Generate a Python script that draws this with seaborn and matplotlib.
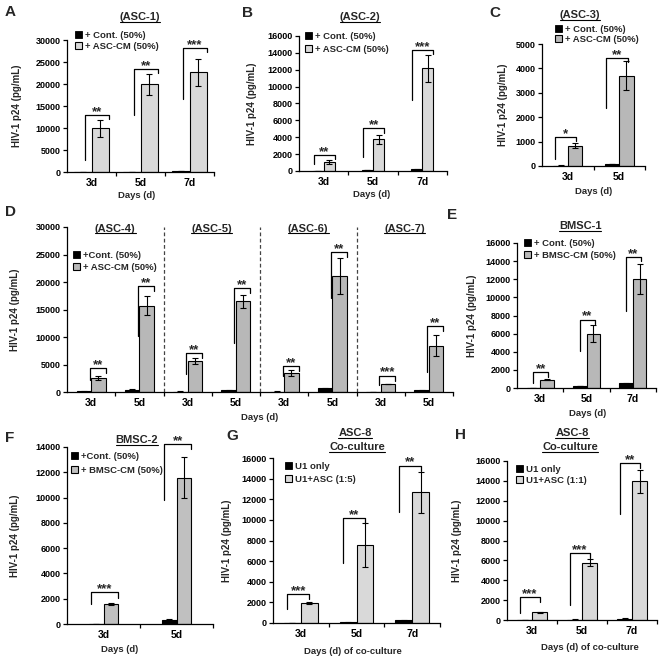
import numpy as np
import pandas as pd
import matplotlib
matplotlib.use("Agg")
import matplotlib.pyplot as plt
import seaborn as sns
from matplotlib.patches import Patch
from matplotlib.lines import Line2D

sns.set_theme(style="ticks")
plt.rcParams["font.family"] = ["Liberation Sans", "DejaVu Sans"]
plt.rcParams["font.weight"] = "bold"
plt.rcParams["axes.labelweight"] = "bold"
plt.rcParams["axes.linewidth"] = 0.9

# ---------------- data ----------------
# Panel A (ASC-1)
a_days = ["3d", "5d", "7d"]
a_ctrl = [50, 80, 200]
a_ctrl_err = [10, 20, 40]
a_cm = [9900, 19900, 22700]
a_cm_err = [1850, 2450, 3050]
a_sig = ["**", "**", "***"]
a_bracket = [13000, 23400, 28100]
a_leg = [2800, 13000, 16500]

# Panel B (ASC-2)
b_days = ["3d", "5d", "7d"]
b_ctrl = [30, 80, 200]
b_ctrl_err = [5, 15, 40]
b_cm = [1030, 3760, 12200]
b_cm_err = [240, 560, 1600]
b_sig = ["**", "**", "***"]
b_bracket = [1900, 5040, 14300]
b_leg = [800, 1600, 8450]

# Panel C (ASC-3)
c_days = ["3d", "5d"]
c_ctrl = [20, 80]
c_ctrl_err = [5, 15]
c_cm = [830, 3700]
c_cm_err = [110, 600]
c_sig = ["*", "**"]
c_bracket = [1170, 4410]
c_leg = [300, 2390]

# Panel D (ASC-4 .. ASC-7)
d_groups = ["(ASC-4)", "(ASC-5)", "(ASC-6)", "(ASC-7)"]
d_cats = ["ASC-4 3d", "ASC-4 5d", "ASC-5 3d", "ASC-5 5d",
          "ASC-6 3d", "ASC-6 5d", "ASC-7 3d", "ASC-7 5d"]
d_ticklabels = ["3d", "5d", "3d", "5d", "3d", "5d", "3d", "5d"]
d_ctrl = [100, 400, 80, 300, 80, 650, 60, 300]
d_ctrl_err = [20, 60, 15, 50, 15, 120, 10, 50]
d_cm = [2550, 15700, 5700, 16500, 3450, 21150, 1450, 8400]
d_cm_err = [350, 1700, 550, 1200, 500, 3300, 80, 1900]
d_sig = ["**", "**", "**", "**", "**", "**", "***", "**"]
d_bracket = [4360, 19200, 7100, 18900, 4670, 25400, 2970, 11940]
d_leg = [2240, 10240, 3270, 8900, 2850, 17100, 1200, 3580]

# Panel E (BMSC-1)
e_days = ["3d", "5d", "7d"]
e_ctrl = [30, 220, 500]
e_ctrl_err = [10, 40, 60]
e_cm = [920, 6000, 12060]
e_cm_err = [80, 900, 1650]
e_sig = ["**", "**", "**"]
e_bracket = [1730, 7540, 14450]
e_leg = [550, 4040, 8450]

# Panel F (BMSC-2)
f_days = ["3d", "5d"]
f_ctrl = [20, 340]
f_ctrl_err = [5, 50]
f_cm = [1580, 11580]
f_cm_err = [80, 1600]
f_sig = ["***", "**"]
f_bracket = [2500, 14240]
f_leg = [1580, 9800]

# Panel G (ASC-8 co-culture 1:5)
g_days = ["3d", "5d", "7d"]
g_ctrl = [20, 50, 260]
g_ctrl_err = [5, 10, 50]
g_cm = [1950, 7560, 12690]
g_cm_err = [60, 2120, 2000]
g_sig = ["***", "**", "**"]
g_bracket = [2790, 10160, 15260]
g_leg = [1400, 5780, 10810]

# Panel H (ASC-8 co-culture 1:1)
h_days = ["3d", "5d", "7d"]
h_ctrl = [20, 50, 150]
h_ctrl_err = [5, 10, 30]
h_cm = [770, 5750, 13950]
h_cm_err = [50, 350, 1120]
h_sig = ["***", "***", "**"]
h_bracket = [2270, 6760, 15790]
h_leg = [670, 1500, 10700]

# ---------------- figure ----------------
W = H = 660
fig = plt.figure(figsize=(6.6, 6.6), dpi=100)
fig.patch.set_facecolor("white")
underline_texts = []


def fxy(x, y):
    return x / W, 1 - y / H


def px_axes(left, top, right, bottom):
    return fig.add_axes([left / W, 1 - bottom / H, (right - left) / W, (bottom - top) / H])


def draw_panel(rect, cats, ticklabels, ctrl, ctrl_err, cm, cm_err, labels, color,
               width, ymax, ystep, bracket, leg_low, sig, bl, br,
               legend_pos, lspacing, xlabel, xlabel_px, ylabel_x):
    left, top, right, bottom = rect
    ax = px_axes(*rect)
    n = len(cats)
    df = pd.DataFrame({
        "day": list(cats) * 2,
        "value": list(ctrl) + list(cm),
        "group": [labels[0]] * n + [labels[1]] * n,
    })
    sns.barplot(data=df, x="day", y="value", hue="group", order=cats,
                hue_order=labels, palette=["black", color], width=width,
                edgecolor="black", linewidth=0.8, errorbar=None,
                legend=False, saturation=1, ax=ax)
    bars = sorted(ax.patches, key=lambda p: p.get_x())
    ctrl_p = [p for p in bars if p.get_facecolor()[0] < 0.3]
    cm_p = [p for p in bars if p.get_facecolor()[0] >= 0.3]
    bw = cm_p[0].get_width()
    cx = [p.get_x() + p.get_width() / 2 for p in ctrl_p]
    mx = [p.get_x() + p.get_width() / 2 for p in cm_p]
    ax.errorbar(cx, [p.get_height() for p in ctrl_p], yerr=ctrl_err, fmt="none",
                ecolor="black", elinewidth=0.8, capsize=2.2, capthick=0.8)
    ax.errorbar(mx, [p.get_height() for p in cm_p], yerr=cm_err, fmt="none",
                ecolor="black", elinewidth=0.8, capsize=2.2, capthick=0.8)
    drop = 0.03 * ymax
    for i in range(n):
        g = (cx[i] + mx[i]) / 2
        xl, xr = g + bl * bw, g + br * bw
        ax.plot([xl, xl, xr, xr], [leg_low[i], bracket[i], bracket[i], bracket[i] - drop],
                color="black", lw=0.9, clip_on=False)
        ax.text((xl + xr) / 2, bracket[i], sig[i], ha="center",
                va="baseline", fontsize=9.5, fontweight="bold", clip_on=False)
    ax.set_ylim(0, ymax)
    yt = np.arange(0, ymax + 1, ystep)
    ax.set_yticks(yt)
    ax.set_yticklabels([str(int(v)) for v in yt], fontsize=6.5, fontweight="bold")
    ax.set_xlim(-0.5, n - 0.5)
    ax.set_xticks(range(n))
    ax.set_xticklabels(ticklabels, fontsize=7.5, fontweight="bold")
    ax.set_xticks(np.arange(0.5, n - 0.5 + 0.01, 1), minor=True)
    ax.tick_params(axis="x", which="major", length=0, pad=4, colors="black")
    ax.tick_params(axis="x", which="minor", length=3, width=0.9, direction="out", color="black")
    ax.tick_params(axis="y", length=3, width=0.9, direction="out", pad=1.5, colors="black")
    sns.despine(ax=ax)
    for s in ("left", "bottom"):
        ax.spines[s].set_color("black")
    ax.set_facecolor("none")
    # axis labels
    ax.set_xlabel(xlabel, fontsize=6.8, fontweight="bold")
    ax.set_ylabel("HIV-1 p24 (pg/mL)", fontsize=7, fontweight="bold")
    xa = (xlabel_px[0] - left) / (right - left)
    ya = (bottom - xlabel_px[1]) / (bottom - top)
    ax.xaxis.set_label_coords(xa, ya)
    ax.xaxis.label.set_va("center")
    ax.yaxis.set_label_coords((ylabel_x - left) / (right - left), 0.5)
    ax.yaxis.label.set_va("center")
    # legend
    handles = [Patch(facecolor="black", edgecolor="black", linewidth=0.6),
               Patch(facecolor=color, edgecolor="black", linewidth=0.8)]
    ax.legend(handles, labels, loc="upper left", bbox_to_anchor=fxy(*legend_pos),
              bbox_transform=fig.transFigure, frameon=False,
              prop={"weight": "bold", "size": 6.8}, borderpad=0, borderaxespad=0,
              handlelength=0.7, handleheight=0.7, handletextpad=0.4,
              labelspacing=lspacing)
    return ax


def title(x, y, s, size=8):
    t = fig.text(*fxy(x, y), s, ha="center", va="center", fontsize=size,
                 fontweight="bold")
    underline_texts.append(t)
    return t


def letter(x, y, s):
    fig.text(*fxy(x, y), s, ha="center", va="center", fontsize=11, fontweight="bold")


LIGHT = "#d9d9d9"
MID = "#b8b8b8"

# A
draw_panel((67, 40, 214, 172), a_days, a_days, a_ctrl, a_ctrl_err, a_cm, a_cm_err,
           ["+ Cont. (50%)", "+ ASC-CM (50%)"], LIGHT, 0.7, 30000, 5000,
           a_bracket, a_leg, a_sig, -0.35, 1.0, (75, 31), 0.2, "Days (d)", (137, 195), 17)
title(140, 17, "(ASC-1)")
letter(10, 12, "A")

# B
draw_panel((299, 36, 447, 171), b_days, b_days, b_ctrl, b_ctrl_err, b_cm, b_cm_err,
           ["+ Cont. (50%)", "+ ASC-CM (50%)"], LIGHT, 0.45, 16000, 2000,
           b_bracket, b_leg, b_sig, -0.9, 1.0, (305, 32), 0.4, "Days (d)", (372, 195), 252)
title(360, 17, "(ASC-2)")
letter(248, 13, "B")

# C
draw_panel((542, 44, 645, 166), c_days, c_days, c_ctrl, c_ctrl_err, c_cm, c_cm_err,
           ["+ Cont. (50%)", "+ ASC-CM (50%)"], MID, 0.56, 5000, 1000,
           c_bracket, c_leg, c_sig, -0.9, 0.6, (555, 25), 0.1, "Days (d)", (594, 192), 503)
title(580, 15, "(ASC-3)")
letter(495, 13, "C")

# D
axd = draw_panel((67, 227, 453, 392), d_cats, d_ticklabels, d_ctrl, d_ctrl_err, d_cm, d_cm_err,
                 ["+Cont. (50%)", "+ ASC-CM (50%)"], MID, 0.6, 30000, 5000,
                 d_bracket, d_leg, d_sig, -0.1, 1.0, (73, 251), 0.3, "Days (d)", (260, 417), 15)
for k in range(1, len(d_groups)):
    axd.axvline(2 * k - 0.5, ymin=0, ymax=1, color="#444444", lw=0.9,
                linestyle=(0, (3, 2)), clip_on=False)
for k, gname in enumerate(d_groups):
    t = axd.text(2 * k + 0.5, 29650, gname, ha="center", va="center",
                 fontsize=8, fontweight="bold")
    underline_texts.append(t)
letter(10, 212, "D")

# E
draw_panel((517, 243, 656, 388), e_days, e_days, e_ctrl, e_ctrl_err, e_cm, e_cm_err,
           ["+ Cont. (50%)", "+ BMSC-CM (50%)"], MID, 0.58, 16000, 2000,
           e_bracket, e_leg, e_sig, -0.5, 0.6, (524, 239), 0.3, "Days (d)", (588, 413), 472)
title(580, 226, "BMSC-1")
letter(452, 215, "E")

# F
draw_panel((67, 447, 213, 624), f_days, f_days, f_ctrl, f_ctrl_err, f_cm, f_cm_err,
           ["+Cont. (50%)", "+ BMSC-CM (50%)"], "#c0c0c0", 0.41, 14000, 2000,
           f_bracket, f_leg, f_sig, -0.85, 1.0, (71, 452), 0.5, "Days (d)", (120, 650), 15)
title(137, 440, "BMSC-2")
letter(10, 438, "F")

# G
draw_panel((273, 458, 440, 623), g_days, g_days, g_ctrl, g_ctrl_err, g_cm, g_cm_err,
           ["U1 only", "U1+ASC (1:5)"], LIGHT, 0.6, 16000, 2000,
           g_bracket, g_leg, g_sig, -0.8, 0.5, (285, 462), 0.4,
           "Days (d) of co-culture", (353, 652), 227)
title(355, 433, "ASC-8")
title(357, 447, "Co-culture")
letter(232, 436, "G")

# H
draw_panel((507, 461, 657, 620), h_days, h_days, h_ctrl, h_ctrl_err, h_cm, h_cm_err,
           ["U1 only", "U1+ASC (1:1)"], LIGHT, 0.6, 16000, 2000,
           h_bracket, h_leg, h_sig, -0.8, 0.5, (516, 465), 0.2,
           "Days (d) of co-culture", (590, 647), 457)
title(572, 433, "ASC-8")
title(570, 447, "Co-culture")
letter(460, 435, "H")

# underline titles
fig.canvas.draw()
renderer = fig.canvas.get_renderer()
inv = fig.transFigure.inverted()
for t in underline_texts:
    bb = t.get_window_extent(renderer)
    (x0, y0) = inv.transform((bb.x0, bb.y0 + 0.5))
    (x1, _) = inv.transform((bb.x1, bb.y0 + 0.5))
    fig.add_artist(Line2D([x0, x1], [y0, y0], transform=fig.transFigure,
                          color="black", lw=0.8))

fig.savefig("out.png", dpi=100, facecolor="white")
